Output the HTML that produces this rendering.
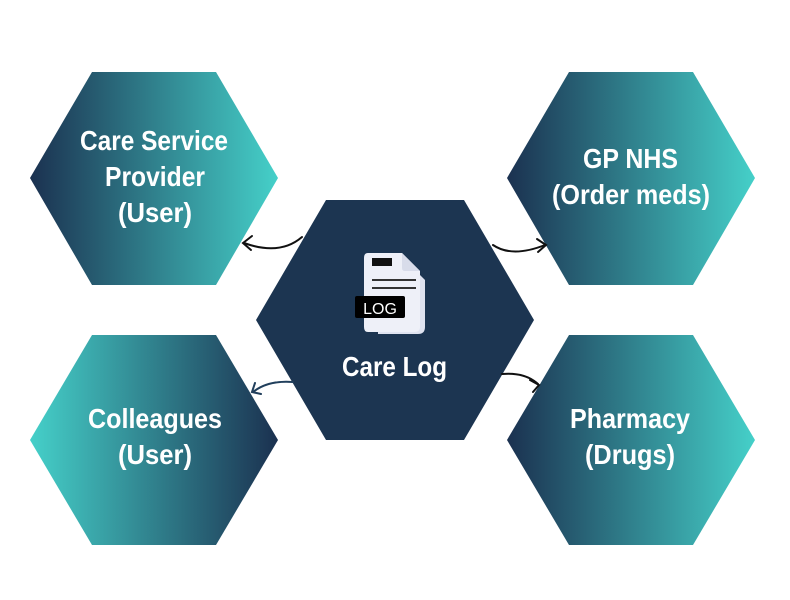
<!DOCTYPE html>
<html><head><meta charset="utf-8"><style>html,body{margin:0;padding:0;background:#fff}svg{display:block}</style></head>
<body>
<svg width="790" height="600" viewBox="0 0 790 600" xmlns="http://www.w3.org/2000/svg">
<defs>
<linearGradient id="g1" x1="0" x2="1" y1="0" y2="0"><stop offset="0" stop-color="#1b3150"/><stop offset="1" stop-color="#45d0c9"/></linearGradient>
<linearGradient id="g2" x1="0" x2="1" y1="0" y2="0"><stop offset="0" stop-color="#45d0c9"/><stop offset="1" stop-color="#1b3150"/></linearGradient>
</defs>
<polygon points="30,178 92,72 216,72 278,178 216,285 92,285" fill="url(#g1)"/>
<polygon points="507,178 569,72 693,72 755,178 693,285 569,285" fill="url(#g1)"/>
<polygon points="30,440 92,335 216,335 278,440 216,545 92,545" fill="url(#g2)"/>
<polygon points="507,440 569,335 693,335 755,440 693,545 569,545" fill="url(#g1)"/>
<polygon points="256,320 326,200 464,200 534,320 464,440 326,440" fill="#1c3551"/>
<g fill="none" stroke="#111" stroke-width="2" stroke-linecap="round">
<path d="M302,237 Q280,256 244,243"/><path d="M252,236 L243,243 L251,250"/>
<path d="M493,245 Q512,258 545,245"/><path d="M537,239 L546,245 L538,252"/>
<path d="M502,374 Q525,372 538,384"/><path d="M530,380 L539,385 L533,392"/>
</g>
<g fill="none" stroke="#213f5c" stroke-width="2" stroke-linecap="round">
<path d="M293,382 Q268,380 253,392"/><path d="M255,383 L252,392 L261,394"/>
</g>
<path d="M378,258 L403,258 L425,280 L425,327 Q425,334 418,334 L378,334Z" fill="#dfe3f0"/>
<path d="M368,253 L402,253 L420,271 L420,327 Q420,332 414,332 L368,332 Q364,332 364,327 L364,258 Q364,253 368,253Z" fill="#eef0f8"/>
<path d="M402,253 L402,268 Q402,271 405,271 L420,271Z" fill="#d8dcea"/>
<rect x="372" y="258" width="20" height="8" fill="#111"/>
<rect x="372" y="279" width="44" height="2" fill="#333"/>
<rect x="372" y="287" width="44" height="2" fill="#333"/>
<rect x="355" y="296" width="50" height="22" rx="2" fill="#000"/>
<text x="380" y="314" text-anchor="middle" font-family="Liberation Sans, sans-serif" font-size="16" fill="#fff">LOG</text>
<g font-family="Liberation Sans, sans-serif" font-weight="bold" font-size="28" fill="#fff">
<text x="80" y="150" textLength="148" lengthAdjust="spacingAndGlyphs">Care Service</text>
<text x="105" y="186" textLength="100" lengthAdjust="spacingAndGlyphs">Provider</text>
<text x="118" y="222" textLength="74" lengthAdjust="spacingAndGlyphs">(User)</text>
<text x="583" y="168" textLength="95" lengthAdjust="spacingAndGlyphs">GP NHS</text>
<text x="552" y="204" textLength="158" lengthAdjust="spacingAndGlyphs">(Order meds)</text>
<text x="342" y="376" textLength="105" lengthAdjust="spacingAndGlyphs">Care Log</text>
<text x="88" y="428" textLength="134" lengthAdjust="spacingAndGlyphs">Colleagues</text>
<text x="118" y="464" textLength="74" lengthAdjust="spacingAndGlyphs">(User)</text>
<text x="570" y="428" textLength="120" lengthAdjust="spacingAndGlyphs">Pharmacy</text>
<text x="585" y="464" textLength="90" lengthAdjust="spacingAndGlyphs">(Drugs)</text>
</g>
</svg>
</body></html>
